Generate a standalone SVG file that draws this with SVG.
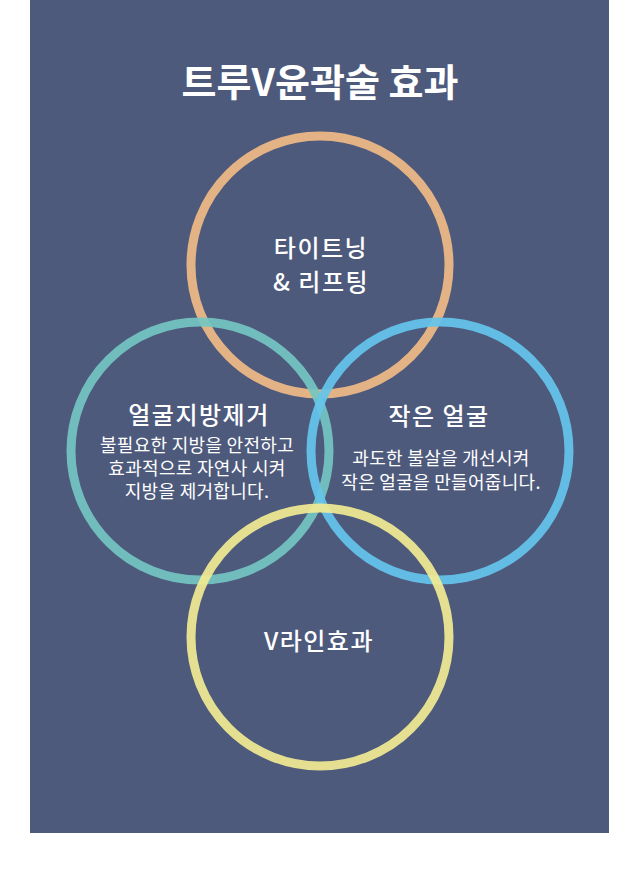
<svg xmlns="http://www.w3.org/2000/svg" width="640" height="894" viewBox="0 0 640 894">
<style>
.ring{fill:none;stroke-width:9;opacity:0.92}
text{font-family:"Noto Sans CJK KR","Noto Sans",sans-serif;fill:#ffffff;text-anchor:middle}
.title{font-size:38px;font-weight:700}
.head{font-size:24px;font-weight:500;letter-spacing:1.5px}
.body{font-size:18px;font-weight:400;letter-spacing:0.3px}
</style>
<rect x="0" y="0" width="640" height="894" fill="#ffffff"/>
<rect x="30" y="0" width="579" height="833" fill="#4e5a7c"/>
<text class="title" x="320" y="96">트루V윤곽술 효과</text>
<g id="connectors"></g>
<g id="node-lifting">
<circle class="ring" cx="320" cy="265" r="129" stroke="#f1bb86"/>
<text class="head" x="321" y="257">타이트닝</text>
<text class="head" x="321" y="291">&amp; 리프팅</text>
</g>
<g id="node-fat">
<circle class="ring" cx="200" cy="451" r="129" stroke="#74c6c2"/>
<text class="head" x="199" y="424">얼굴지방제거</text>
<text class="body" x="197" y="452">불필요한 지방을 안전하고</text>
<text class="body" x="197" y="475">효과적으로 자연사 시켜</text>
<text class="body" x="197" y="498">지방을 제거합니다.</text>
</g>
<g id="node-small">
<circle class="ring" cx="440" cy="451" r="129" stroke="#64c4ec"/>
<text class="head" x="439" y="425">작은 얼굴</text>
<text class="body" x="441" y="465">과도한 불살을 개선시켜</text>
<text class="body" x="441" y="489">작은 얼굴을 만들어줍니다.</text>
</g>
<g id="node-vline">
<circle class="ring" cx="320" cy="637" r="129" stroke="#f2ea92"/>
<text class="head" x="319" y="650">V라인효과</text>
</g>
</svg>
